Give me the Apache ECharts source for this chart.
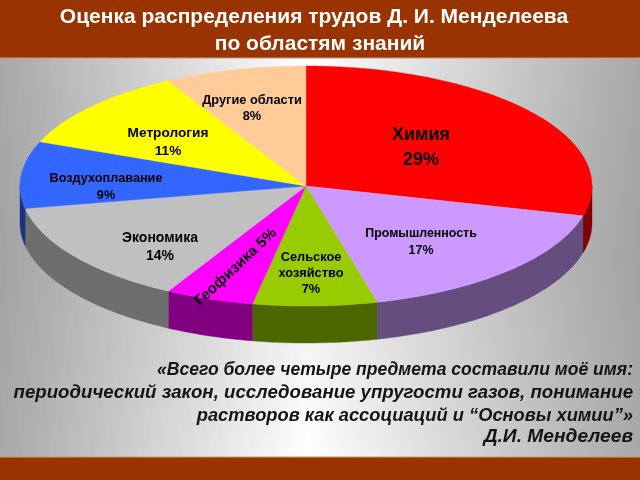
<!DOCTYPE html>
<html><head><meta charset="utf-8">
<style>html,body{margin:0;padding:0;background:#fff}#c{width:640px;height:480px}</style>
<script src="https://cdn.jsdelivr.net/npm/echarts@6/dist/echarts.min.js"></script>
</head><body><div id="c"></div>
<script>
const categories = ['Химия','Промышленность','Сельское хозяйство','Геофизика','Экономика','Воздухоплавание','Метрология','Другие области'];
const values = [29,17,7,5,14,9,11,8];
const topColors = ['#ff0000','#cc99ff','#99cc00','#ff00ff','#c0c0c0','#3366ff','#ffff00','#ffcc99'];
const sideColors = ['#800000','#664d80','#4d6600','#800080','#6e6e6e','#1a3380','#808000','#806633'];
const titleLines = ['Оценка распределения трудов Д. И. Менделеева','по областям знаний'];
const quoteLines = ['«Всего более четыре предмета составили моё имя:','периодический закон, исследование упругости газов, понимание','растворов как ассоциаций и “Основы химии”»','Д.И. Менделеев'];
const quoteY = [370,393,416,437];
const quoteStretch = [0.96,1.02,1.0,1.05];
// label placement per category: [centre x, first line y, line step, font px]
const labelLayout = [[421,135,25,18],[421,234,17,12.4],[311,257,16,12.8],[236,267,0,15],[160,238,18,14],[106,178,17,12.7],[168,133,18,13.7],[252,100,16,12.8]];
const labelLines = [['Химия','29%'],['Промышленность','17%'],['Сельское','хозяйство','7%'],['Геофизика 5%'],['Экономика','14%'],['Воздухоплавание','9%'],['Метрология','11%'],['Другие области','8%']];

const cx=306, cy=186, rx=286, ry=120, depth=37, cutY=298;
const total = values.reduce((a,b)=>a+b,0);
const pt=(deg,dy)=>{const t=deg*Math.PI/180;return [cx+rx*Math.sin(t),cy-ry*Math.cos(t)+(dy||0)];};
const range=(a,b)=>{const p=[],n=Math.max(2,Math.ceil(Math.abs(b-a)));for(let i=0;i<=n;i++)p.push(a+(b-a)*i/n);return p;};
const starts=[];values.reduce((s,v,i)=>{starts[i]=s;return s+v;},0);

function sector(i){const a=starts[i]/total*360,b=(starts[i]+values[i])/total*360;return {a,b};}
function wallPoly(a,b){const lo=Math.max(a,90),hi=Math.min(b,270);if(hi<=lo)return null;const r=range(lo,hi);return r.map(d=>pt(d)).concat(r.slice().reverse().map(d=>pt(d,depth)));}
// part of a wedge's top face lying below a horizontal line
function belowLine(r,y){
  const arc=r.map(d=>pt(d)), out=[];
  const edge=p=>{const f=(y-cy)/(p[1]-cy);return [cx+(p[0]-cx)*f,y];};
  if(arc[0][1]>y) out.push(edge(arc[0]));
  arc.forEach(p=>{if(p[1]>=y) out.push(p);});
  const last=arc[arc.length-1];
  if(last[1]>y) out.push(edge(last));
  return out;
}
const titleStyle={color:'#fff',fontFamily:'Liberation Sans',fontWeight:'bold',fontSize:21,lineHeight:27};

const chart=echarts.init(document.getElementById('c'),null,{renderer:'canvas'});
chart.setOption({
  animation:false,
  title:[
    {text:titleLines[0],left:314,top:3.5,padding:0,textAlign:'center',textStyle:titleStyle},
    {text:titleLines[1],left:320,top:30.5,padding:0,textAlign:'center',textStyle:titleStyle}
  ],
  graphic:[
    {type:'rect',z:-10,shape:{x:0,y:0,width:640,height:480},style:{fill:{type:'linear',x:0,y:0,x2:1,y2:0,colorStops:[{offset:0,color:'#a8a8a8'},{offset:.48,color:'#ffffff'},{offset:1,color:'#a8a8a8'}]}}},
    {type:'rect',z:-9,shape:{x:0,y:58,width:640,height:399},style:{fill:{type:'linear',x:0,y:0,x2:0,y2:1,colorStops:[{offset:0,color:'rgba(120,120,120,0)'},{offset:.5,color:'rgba(120,120,120,.12)'},{offset:1,color:'rgba(120,120,120,0)'}]}}},
    {type:'rect',z:-8,shape:{x:0,y:0,width:640,height:58},style:{fill:'#993300'}},
    {type:'rect',z:-8,shape:{x:0,y:457,width:640,height:23},style:{fill:'#993300'}},
    {type:'rect',z:-7,shape:{x:0,y:57.5,width:640,height:1},style:{fill:'#c89a80'}},
    {type:'rect',z:-7,shape:{x:0,y:456.5,width:640,height:1},style:{fill:'#c89a80'}},
    ...quoteLines.map((t,i)=>({type:'text',z:10,x:633,y:quoteY[i],scaleX:quoteStretch[i],style:{text:t,fill:'#141414',align:'right',verticalAlign:'middle',font:'italic bold 18.3px "Liberation Sans"'}}))
  ],
  series:[{type:'custom',coordinateSystem:'none',data:categories.map((c,i)=>[i,values[i]]),clip:false,
    renderItem:(p,api)=>{
      const i=api.value(0),{a,b}=sector(i),kids=[];
      const r=range(a,b);
      kids.push({type:'polygon',z2:2,shape:{points:[[cx,cy]].concat(r.map(d=>pt(d)))},style:{fill:topColors[i],stroke:topColors[i],lineWidth:.4}});
      const w=wallPoly(a,b);
      if(w)kids.push({type:'polygon',z2:1,shape:{points:w},style:{fill:sideColors[i],stroke:sideColors[i],lineWidth:.4}});
      const [lx,ly,step,fs]=labelLayout[i];
      if(labelLines[i].length===1){
        kids.push({type:'text',z2:5,x:lx,y:ly,rotation:43*Math.PI/180,style:{text:labelLines[i][0],fill:'#000',align:'center',verticalAlign:'middle',font:'bold '+fs+'px "Liberation Sans"'}});
        kids.push({type:'polygon',z2:6,shape:{points:belowLine(r,cutY)},style:{fill:topColors[i]}});
      } else labelLines[i].forEach((t,k)=>kids.push({type:'text',z2:5,x:lx,y:ly+k*step,style:{text:t,fill:'#000',align:'center',verticalAlign:'middle',font:'bold '+fs+'px "Liberation Sans"'}}));
      return {type:'group',children:kids};
    }}]
});
</script></body></html>
